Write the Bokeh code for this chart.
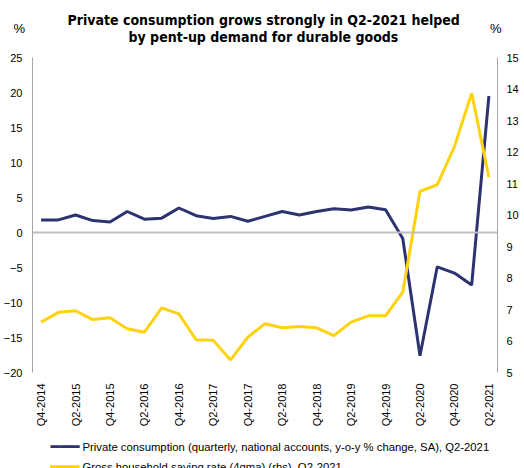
import math
from bokeh.plotting import figure
from bokeh.models import (Range1d, LinearAxis, FixedTicker, Span, Title,
                          ColumnDataSource)
from bokeh.embed import file_html
from bokeh.resources import INLINE

# ---------------- data ----------------
quarters = [
    "Q4-2014", "Q1-2015", "Q2-2015", "Q3-2015", "Q4-2015",
    "Q1-2016", "Q2-2016", "Q3-2016", "Q4-2016",
    "Q1-2017", "Q2-2017", "Q3-2017", "Q4-2017",
    "Q1-2018", "Q2-2018", "Q3-2018", "Q4-2018",
    "Q1-2019", "Q2-2019", "Q3-2019", "Q4-2019",
    "Q1-2020", "Q2-2020", "Q3-2020", "Q4-2020",
    "Q1-2021", "Q2-2021",
]
private_consumption = [
    1.8, 1.8, 2.5, 1.7, 1.5,
    3.0, 1.9, 2.05, 3.5,
    2.4, 2.0, 2.3, 1.6,
    2.3, 3.0, 2.5, 3.0,
    3.4, 3.2, 3.65, 3.25,
    -0.85, -17.6, -4.9, -5.8,
    -7.5, 19.5,
]
saving_rate = [
    6.60, 6.91, 6.96, 6.68, 6.74,
    6.39, 6.28, 7.05, 6.86,
    6.04, 6.02, 5.40, 6.12,
    6.55, 6.42, 6.46, 6.42,
    6.17, 6.60, 6.80, 6.80,
    7.55, 10.75, 10.96, 12.17,
    13.87, 11.20,
]
left_ticks = [-20, -15, -10, -5, 0, 5, 10, 15, 20, 25]
right_ticks = [5, 6, 7, 8, 9, 10, 11, 12, 13, 14, 15]
label_idx = list(range(0, len(quarters), 2))
tick_labels = {i: quarters[i] for i in label_idx}

title_lines = ["Private consumption grows strongly in Q2-2021 helped",
               "by pent-up demand for durable goods"]
unit_label = "%"
legend_labels = [
    "Private consumption (quarterly, national accounts, y-o-y % change, SA), Q2-2021",
    "Gross household saving rate (4qma) (rhs), Q2-2021",
]
legend_swatch = "\u2501\u2501\u2501"

BLUE = "#2C3370"
YELLOW = "#FFD20F"
AXIS = "#A6A6A6"
FONT = "Liberation Sans"
TFONT = "DejaVu Sans Condensed"

x = list(range(len(quarters)))
src = ColumnDataSource(dict(x=x, pc=private_consumption, sr=saving_rate))

p = figure(width=524, height=468, frame_height=315,
           output_backend="svg", toolbar_location=None,
           x_range=Range1d(-0.5, len(quarters) - 0.5),
           y_range=Range1d(-20, 25),
           min_border_left=30, min_border_right=27,
           min_border_top=57, min_border_bottom=96)
p.extra_y_ranges = {"rhs": Range1d(5, 15)}
p.outline_line_color = None
p.xgrid.grid_line_color = None
p.ygrid.grid_line_color = None
p.background_fill_color = "white"
p.border_fill_color = "white"


def style_axis(ax, standoff):
    ax.major_tick_line_color = None
    ax.minor_tick_line_color = None
    ax.major_tick_out = 0
    ax.major_tick_in = 0
    ax.minor_tick_out = 0
    ax.minor_tick_in = 0
    ax.major_label_standoff = standoff
    ax.axis_label_standoff = 0
    ax.major_label_text_font = FONT
    ax.major_label_text_font_size = "11px"
    ax.major_label_text_color = "black"


xa = p.xaxis[0]
xa.ticker = FixedTicker(ticks=label_idx)
xa.major_label_overrides = tick_labels
xa.major_label_orientation = math.pi / 2
xa.axis_line_color = None
style_axis(xa, 11)

ya = p.yaxis[0]
ya.ticker = FixedTicker(ticks=left_ticks)
ya.axis_line_color = AXIS
style_axis(ya, 10)

ra = LinearAxis(y_range_name="rhs", ticker=FixedTicker(ticks=right_ticks))
ra.axis_line_color = AXIS
style_axis(ra, 9)
p.add_layout(ra, "right")

p.add_layout(Span(location=0, dimension="width", line_color="#BFBFBF", line_width=2))

r1 = p.line("x", "pc", source=src, line_color=BLUE, line_width=3)
r2 = p.line("x", "sr", source=src, y_range_name="rhs", line_color=YELLOW, line_width=3)


def ttl(text, standoff, align="center", offset=0, font=TFONT, style="bold",
        size="14px", color="black"):
    return Title(text=text, align=align, offset=offset, standoff=standoff,
                 vertical_align="middle", text_font=font, text_font_style=style,
                 text_font_size=size, text_color=color)


# stacked header rows (first = nearest the plot frame)
p.add_layout(ttl(" ", -5, size="13px"), "above")
p.add_layout(ttl(title_lines[1], -1, align="left", offset=96), "above")
p.add_layout(ttl(unit_label, -17, align="left", offset=-19, font=FONT, style="normal", size="13px"), "above")
p.add_layout(ttl(unit_label, -17, align="right", offset=-4, font=FONT, style="normal", size="13px"), "above")
p.add_layout(ttl(title_lines[0], -1, align="left", offset=35), "above")
p.add_layout(ttl(" ", -6, size="13px"), "above")

# legend rows below the x axis (swatch + label share a zero-height row)
colors = [BLUE, YELLOW]
p.add_layout(ttl(" ", 0, size="13px"), "below")
for i, lab in enumerate(legend_labels):
    if i > 0:
        p.add_layout(ttl(" ", 3, size="13px"), "below")
    p.add_layout(ttl(legend_swatch, -21, align="left", offset=18, font="DejaVu Sans",
                     style="normal", size="16px", color=colors[i]), "below")
    p.add_layout(ttl(lab, -15, align="left", offset=50, font=FONT,
                     style="normal", size="11.3px"), "below")
p.add_layout(ttl(" ", -12, size="13px"), "below")

open("out.html", "w").write(file_html(p, INLINE))
